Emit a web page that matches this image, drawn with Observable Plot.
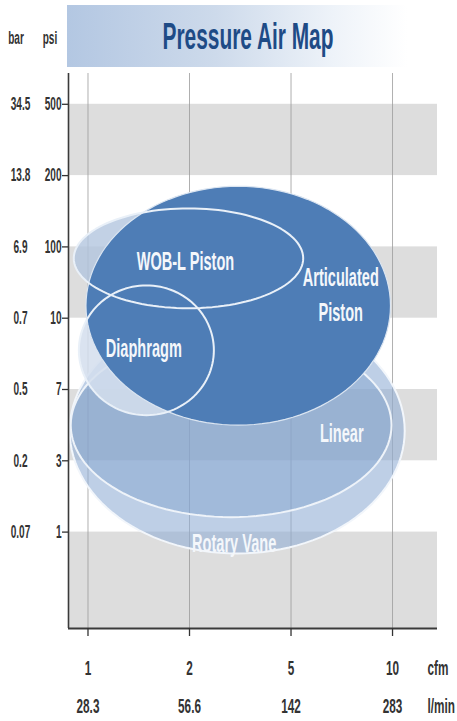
<!DOCTYPE html>
<html>
<head>
<meta charset="utf-8">
<script src="https://cdn.jsdelivr.net/npm/d3@7"></script>
<script src="https://cdn.jsdelivr.net/npm/@observablehq/plot@0.6"></script>
<style>
  html, body { margin: 0; padding: 0; background: #ffffff; }
  body { width: 457px; height: 721px; overflow: hidden; font-family: "Liberation Sans", Arial, sans-serif; }
  #head { position: relative; width: 457px; height: 70px; }
  #banner { position: absolute; left: 67px; top: 5px; width: 370px; height: 62px;
    background: linear-gradient(to right, #b3c7e2 0%, #cddaeb 40%, #eef3f9 72%, #ffffff 92%); }
  .unit { position: absolute; top: 29px; font-size: 18px; line-height: 18px; color: #333; font-weight: bold;
    transform: translateX(-50%) scaleX(0.56); white-space: nowrap; }
  #title { position: absolute; left: 248px; top: 19px; font-size: 36px; line-height: 36px; font-weight: bold;
    color: #1e4b86; white-space: nowrap; transform: translateX(-50%) scaleX(0.58); }
  #chart svg { display: block; }
</style>
</head>
<body>
<div id="head">
  <div id="banner"></div>
  <span class="unit" style="left:16px">bar</span>
  <span class="unit" style="left:50px">psi</span>
  <span id="title">Pressure Air Map</span>
</div>
<div id="chart"></div>
<script>
// ---- data ----
const cfmTicks = ["1", "2", "5", "10"];
const lpmTicks = ["28.3", "56.6", "142", "283"];
const psiTicks = ["1", "3", "7", "10", "100", "200", "500"];
const barTicks = ["0.07", "0.2", "0.5", "0.7", "6.9", "13.8", "34.5"];

// shaded pressure bands (psi tick from .. to); "floor" = bottom of the map
const bandLow  = ["floor", "3", "10", "200"];
const bandHigh = ["1", "7", "100", "500"];

// technology regions: flow range (cfm tick levels) and pressure range (psi tick levels)
const techNames = ["Rotary Vane", "Linear", "WOB-L Piston", "Diaphragm", "Articulated Piston"];
const flowLow   = [-0.18, -0.17, -0.14, -0.09, -0.02];
const flowHigh  = [ 3.12,  2.99,  2.12,  1.24,  2.98];
const pressLow  = [-0.30,  0.21,  3.14,  1.64,  1.50];
const pressHigh = [ 3.14,  2.79,  4.54,  3.46,  4.85];

// region labels and where they sit (cfm level, psi level)
const labelText  = ["WOB-L Piston", "Articulated\nPiston", "Diaphragm", "Linear", "Rotary Vane"];
const labelFlow  = [0.96, 2.49, 0.55, 2.50, 1.44];
const labelPress = [3.84, 3.36, 2.61, 1.42, -0.12];

// ---- build ----
const xLev = cfmTicks.map((_, i) => i);
const yLev = psiTicks.map((_, i) => i);
const X_DOMAIN = [-0.192, 3.443];
const Y_DOMAIN = [-1.352, 6.432];

const bands = bandLow.map((lo, i) => ({
  y1: lo === "floor" ? Y_DOMAIN[0] : psiTicks.indexOf(lo),
  y2: psiTicks.indexOf(bandHigh[i])
}));

function outline(k) {
  const cx = (flowLow[k] + flowHigh[k]) / 2, rx = (flowHigh[k] - flowLow[k]) / 2;
  const cy = (pressLow[k] + pressHigh[k]) / 2, ry = (pressHigh[k] - pressLow[k]) / 2;
  const pts = [];
  for (let a = 0; a < 360; a += 3) {
    const t = a * Math.PI / 180;
    pts.push({name: techNames[k], x: cx + rx * Math.cos(t), y: cy + ry * Math.sin(t)});
  }
  return pts;
}
const idx = name => techNames.indexOf(name);
const shape = (name, o) => Plot.line(outline(idx(name)), {x: "x", y: "y", curve: "linear-closed", ...o});

const labels = labelText.map((t, i) => ({text: t, x: labelFlow[i], y: labelPress[i]}));

const plot = Plot.plot({
  width: 457,
  height: 651,
  marginLeft: 68,
  marginRight: 20,
  marginTop: 3,
  marginBottom: 93,
  x: {domain: X_DOMAIN, axis: null},
  y: {domain: Y_DOMAIN, axis: null},
  style: {fontFamily: '"Liberation Sans", Arial, sans-serif', background: "transparent", overflow: "visible"},
  marks: [
    Plot.rect(bands, {x1: X_DOMAIN[0], x2: X_DOMAIN[1], y1: "y1", y2: "y2", fill: "#dddddd"}),
    Plot.ruleX(xLev, {stroke: "#9a9a9a", strokeWidth: 0.8}),

    shape("Rotary Vane", {fill: "#93afd6", fillOpacity: 0.6, stroke: "#f2f6fb", strokeWidth: 2}),
    shape("Linear", {fill: "#7f9fcc", fillOpacity: 0.45, stroke: "#eef3f9", strokeWidth: 2}),
    shape("WOB-L Piston", {fill: "#b3c5de", fillOpacity: 0.8, stroke: "none"}),
    shape("Diaphragm", {fill: "#d3deed", fillOpacity: 0.85, stroke: "none"}),
    shape("Articulated Piston", {fill: "#4e7db6", stroke: "#dbe5f1", strokeWidth: 1.2}),
    shape("WOB-L Piston", {fill: "none", stroke: "#e9f0f8", strokeWidth: 2}),
    shape("Diaphragm", {fill: "none", stroke: "#e9f0f8", strokeWidth: 2}),

    Plot.text(labels, {x: "x", y: "y", text: "text", fill: "#f4f7fb", fontSize: 26, lineHeight: 1.35, fontWeight: "bold"}),

    Plot.ruleX([X_DOMAIN[0]], {stroke: "#3a3a3a", strokeWidth: 1.6}),
    Plot.ruleY([Y_DOMAIN[0]], {stroke: "#3a3a3a", strokeWidth: 2}),
    Plot.axisY(yLev, {tickSize: 6, tickFormat: () => "", label: null, stroke: "#333", strokeWidth: 1.3}),
    Plot.axisX(xLev, {tickSize: 8, tickFormat: () => "", label: null, stroke: "#333", strokeWidth: 1.3}),

    Plot.text(yLev, {y: d => d, frameAnchor: "left", dx: -7, text: i => psiTicks[i], textAnchor: "end", fontSize: 18, fontWeight: "bold", fill: "#333"}),
    Plot.text(yLev, {y: d => d, frameAnchor: "left", dx: -48, text: i => barTicks[i], textAnchor: "middle", fontSize: 18, fontWeight: "bold", fill: "#333"}),
    Plot.text(xLev, {x: d => d, frameAnchor: "bottom", dy: 46, text: i => cfmTicks[i], fontSize: 21, fontWeight: "bold", fill: "#333"}),
    Plot.text(xLev, {x: d => d, frameAnchor: "bottom", dy: 84, text: i => lpmTicks[i], fontSize: 21, fontWeight: "bold", fill: "#333"}),
    Plot.text(["cfm"], {frameAnchor: "bottom-right", dx: -10, dy: 46, text: d => d, textAnchor: "start", fontSize: 21, fontWeight: "bold", fill: "#333"}),
    Plot.text(["l/min"], {frameAnchor: "bottom-right", dx: -10, dy: 84, text: d => d, textAnchor: "start", fontSize: 21, fontWeight: "bold", fill: "#333"})
  ]
});

document.getElementById("chart").append(plot);

// condensed lettering: squeeze each text horizontally around its anchor
plot.querySelectorAll("text").forEach(el => {
  if (!el.textContent) return;
  const b = el.getBBox();
  const cs = getComputedStyle(el);
  const anchor = cs.textAnchor;
  const ax = anchor === "end" ? b.x + b.width : anchor === "middle" ? b.x + b.width / 2 : b.x;
  const s = parseFloat(cs.fontSize) >= 24 ? 0.56 : 0.56;
  const prev = el.getAttribute("transform") || "";
  el.setAttribute("transform", `${prev} translate(${ax},0) scale(${s},1) translate(${-ax},0)`);
});
</script>
</body>
</html>
